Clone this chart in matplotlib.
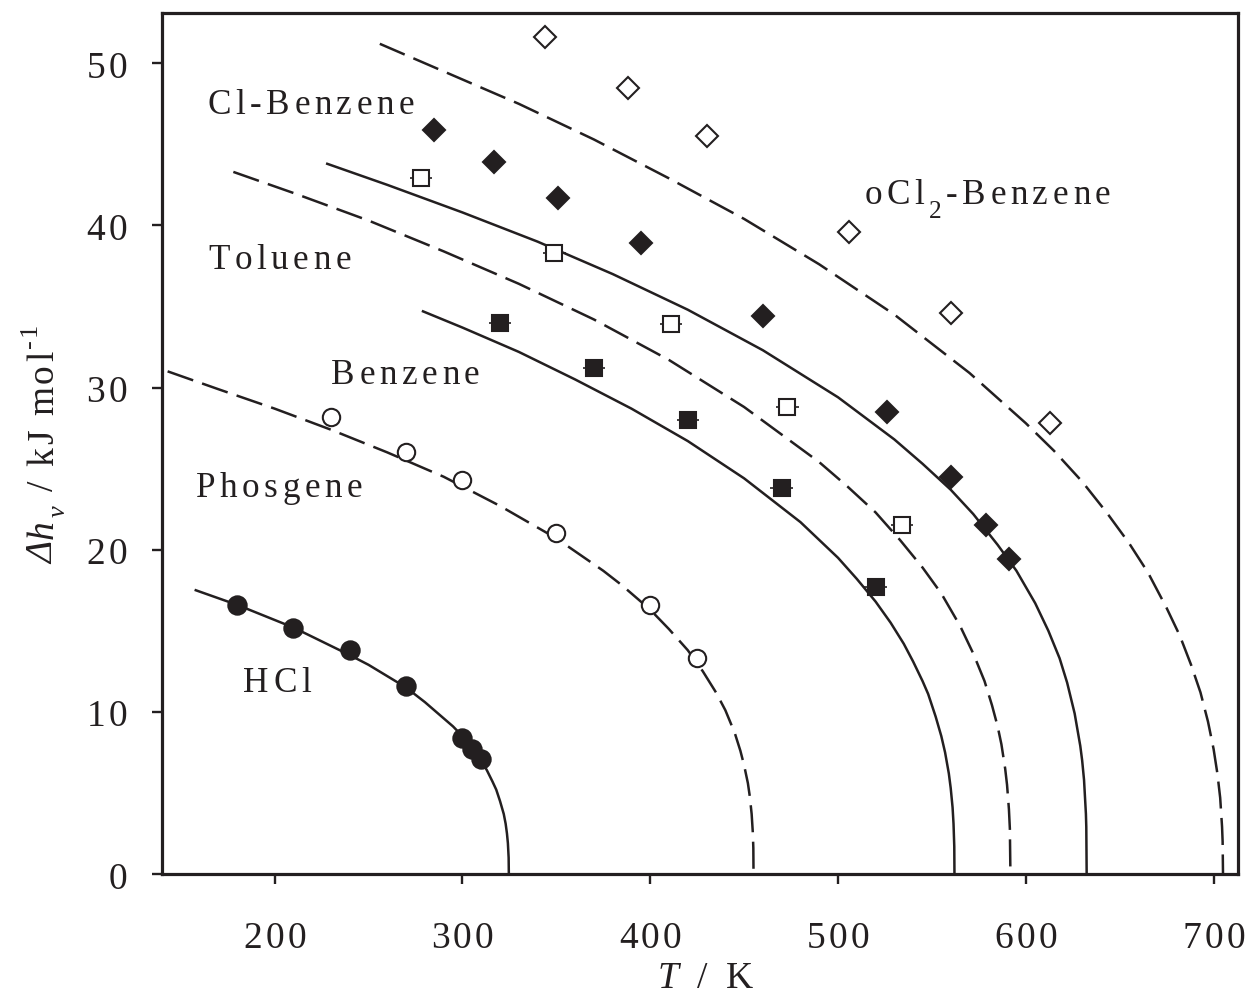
import numpy as np
import matplotlib
matplotlib.use("Agg")
import matplotlib.pyplot as plt
from matplotlib.font_manager import FontProperties, findfont, get_font
try:
    from matplotlib.ft2font import LoadFlags
    NOHINT = LoadFlags.NO_HINTING
except ImportError:
    from matplotlib.ft2font import LOAD_NO_HINTING as NOHINT

SERIF = "Liberation Serif"
INK = "#231f20"
plt.rcParams["lines.scale_dashes"] = False
FONT_FILES = {st: findfont(FontProperties(family=SERIF, style=st))
              for st in ("normal", "italic")}

# --- correlation curves, dh_v [kJ/mol] vs T [K] ---
hcl_T = [158, 180, 210, 240, 250, 260, 270, 280, 290, 295, 300, 305, 310, 313, 316, 318,
         320, 322, 323, 323.7, 324.2, 324.6, 324.7]
hcl_h = [17.5, 16.6, 15.2, 13.5, 12.9, 12.2, 11.5, 10.6, 9.6, 9.1, 8.5, 7.8, 7.0, 6.4, 5.7, 5.2,
         4.5, 3.7, 3.1, 2.5, 1.9, 1.0, 0.0]

phos_T = [143, 170, 200, 230, 260, 290, 320, 350, 375, 385, 400, 410, 420, 428, 435, 440,
          445, 448, 450, 452, 453, 454, 454.6, 454.9, 455]
phos_h = [31.0, 29.9, 28.7, 27.4, 26.0, 24.5, 22.7, 20.7, 18.7, 17.8, 16.3, 15.1, 13.8, 12.5, 11.2, 10.1,
          8.7, 7.6, 6.7, 5.6, 4.8, 3.7, 2.6, 1.6, 0.0]

benz_T = [279, 300, 330, 360, 390, 420, 450, 480, 490, 500, 510, 520, 528, 535, 540, 545,
          548, 552, 555, 557, 559, 560, 561, 561.5, 561.9, 562]
benz_h = [34.7, 33.7, 32.2, 30.5, 28.7, 26.7, 24.4, 21.7, 20.6, 19.5, 18.2, 16.8, 15.5, 14.2, 13.1, 11.9,
          11.1, 9.7, 8.5, 7.5, 6.2, 5.3, 4.1, 3.1, 1.7, 0.0]

tol_T = [178, 210, 250, 290, 330, 370, 410, 450, 490, 505, 520, 533, 545, 555, 565, 572,
         578, 582, 585, 587, 589, 590, 591, 591.5, 591.8]
tol_h = [43.3, 42.0, 40.3, 38.4, 36.4, 34.2, 31.7, 28.8, 25.4, 23.9, 22.3, 20.6, 18.9, 17.3, 15.3, 13.6,
         11.9, 10.4, 9.1, 8.0, 6.5, 5.5, 4.0, 2.8, 0.0]

clb_T = [228, 260, 300, 340, 380, 420, 460, 500, 515, 530, 545, 560, 572, 585, 595, 605,
         612, 618, 622, 626, 629, 630, 631, 632, 632.2, 632.4]
clb_h = [43.8, 42.5, 40.8, 39.0, 37.0, 34.8, 32.3, 29.4, 28.1, 26.8, 25.3, 23.7, 22.2, 20.3, 18.7, 16.7,
         15.0, 13.3, 11.8, 9.9, 7.9, 7.0, 5.8, 3.7, 2.9, 0.0]

dcb_T = [256, 290, 330, 370, 410, 450, 490, 530, 570, 600, 615, 630, 643, 655, 665, 675,
         682, 688, 693, 697, 700, 702, 703.5, 704.5, 704.8, 705]
dcb_h = [51.2, 49.5, 47.5, 45.3, 42.9, 40.4, 37.6, 34.5, 30.9, 27.8, 26.1, 24.2, 22.3, 20.4, 18.6, 16.4,
         14.7, 12.9, 11.2, 9.4, 7.7, 6.2, 4.7, 2.9, 2.0, 0.0]

# --- experimental points ---
hcl_Tx = [180, 210, 240, 270, 300, 305, 310]
hcl_hx = [16.6, 15.2, 13.8, 11.6, 8.4, 7.7, 7.1]

phos_Tx = [230, 270, 300, 350, 400, 425]
phos_hx = [28.2, 26.0, 24.3, 21.0, 16.6, 13.3]

benz_Tx = [320, 370, 420, 470, 520]
benz_hx = [34.0, 31.2, 28.0, 23.8, 17.7]

tol_Tx = [278, 349, 411, 473, 534]
tol_hx = [42.9, 38.3, 33.9, 28.8, 21.5]

clb_Tx = [285, 317, 351, 395, 460, 526, 560, 579, 591]
clb_hx = [45.9, 43.9, 41.7, 38.9, 34.4, 28.5, 24.5, 21.5, 19.4]

dcb_Tx = [344, 388, 430, 506, 560, 613]
dcb_hx = [51.6, 48.5, 45.5, 39.6, 34.6, 27.8]

xticks = [200, 300, 400, 500, 600, 700]
yticks = [0, 10, 20, 30, 40, 50]


def advance(ch, size, style):
    font = get_font(FONT_FILES[style])
    font.set_size(size, 72)
    g = font.load_char(ord(ch), flags=NOHINT)
    return g.linearHoriAdvance / 65536.0


def spaced_text(ax, x, y, pieces, trans, size, track, ha="left",
                dx=0.0, dy=0.0, rotation=0):
    """Draw text letter by letter with extra tracking (points)."""
    items = []
    pos = 0.0
    for text, style, scale, rise in pieces:
        fs = size * scale
        for ch in text:
            items.append((ch, style, fs, pos, rise * size))
            pos += advance(ch, fs, style) + track
    total = pos - track
    shift = {"left": 0.0, "center": -total / 2, "right": -total}[ha]
    for ch, style, fs, p, r in items:
        if ch == " ":
            continue
        along = p + shift
        if rotation == 90:
            off = (dx - r, dy + along)
        else:
            off = (dx + along, dy + r)
        fp = FontProperties(fname=FONT_FILES[style], size=fs)
        ax.annotate(ch, (x, y), xycoords=trans, xytext=off,
                    textcoords="offset points", fontproperties=fp,
                    ha="left", va="baseline", rotation=rotation,
                    rotation_mode="anchor", color=INK, annotation_clip=False)


fig = plt.figure(figsize=(12.46, 10), dpi=100)
ax = fig.add_axes([0.130, 0.126, 0.8636, 0.861])

dash = (0, (19.5, 6.8))
lw = 1.8
ax.plot(hcl_T, hcl_h, color=INK, lw=lw, zorder=2)
ax.plot(phos_T, phos_h, color=INK, lw=lw, ls=dash, zorder=2)
ax.plot(benz_T, benz_h, color=INK, lw=lw, zorder=2)
ax.plot(tol_T, tol_h, color=INK, lw=lw, ls=dash, zorder=2)
ax.plot(clb_T, clb_h, color=INK, lw=lw, zorder=2)
ax.plot(dcb_T, dcb_h, color=INK, lw=lw, ls=dash, zorder=2)

# small horizontal bars on the square symbols
ax.errorbar(benz_Tx, benz_hx, xerr=6, fmt="none", ecolor=INK, elinewidth=1.2, capsize=0, zorder=3)
ax.errorbar(tol_Tx, tol_hx, xerr=6, fmt="none", ecolor=INK, elinewidth=1.2, capsize=0, zorder=3)

mk = dict(ls="none", mec=INK, mew=1.5, zorder=4)
ax.plot(hcl_Tx, hcl_hx, marker="o", ms=13.2, mfc=INK, **mk)
ax.plot(phos_Tx, phos_hx, marker="o", ms=12.5, mfc="white", **mk)
ax.plot(benz_Tx, benz_hx, marker="s", ms=12.2, mfc=INK, **mk)
ax.plot(tol_Tx, tol_hx, marker="s", ms=11.8, mfc="white", **mk)
ax.plot(clb_Tx, clb_hx, marker="D", ms=11.0, mfc=INK, **mk)
ax.plot(dcb_Tx, dcb_hx, marker="D", ms=10.8, mfc="white", **mk)

ax.set_xlim(140, 713)
ax.set_ylim(0, 53.1)
ax.set_xticks(xticks)
ax.set_yticks(yticks)
ax.set_xticklabels([])
ax.set_yticklabels([])
ax.tick_params(direction="out", length=7.2, width=1.7, color=INK,
               top=False, right=False)
for sp in ax.spines.values():
    sp.set_linewidth(2.3)
    sp.set_color(INK)

# tick labels
tick_fs, tick_tr = 27, 2.3
for t in xticks:
    spaced_text(ax, t, 0, [(str(t), "normal", 1, 0)], ax.get_xaxis_transform(),
                tick_fs, tick_tr, ha="center", dy=-53.3)
for v in yticks:
    spaced_text(ax, 0, v, [(str(v), "normal", 1, 0)], ax.get_yaxis_transform(),
                tick_fs, tick_tr, ha="right", dx=-25.2, dy=-10.5)

# axis labels
spaced_text(ax, 0.505, 0, [("T", "italic", 1, 0), (" / K", "normal", 1, 0)],
            ax.transAxes, 27, 3.3, ha="center", dy=-82)
spaced_text(ax, 0, 0.5,
            [("\u0394", "italic", 1, 0), ("h", "italic", 1, 0),
             ("v", "italic", 0.7, -0.3), (" / kJ mol", "normal", 1, 0),
             ("-1", "normal", 0.7, 0.45)],
            ax.transAxes, 27, 2.0, ha="center", dx=-78.5, rotation=90)

# curve labels
lab_fs, lab_tr = 25.3, 3.3
spaced_text(ax, 164.3, 46.9, [("Cl-Benzene", "normal", 1, 0)], ax.transData, lab_fs, lab_tr)
spaced_text(ax, 164.8, 37.3, [("Toluene", "normal", 1, 0)], ax.transData, lab_fs, lab_tr)
spaced_text(ax, 230.2, 30.25, [("Benzene", "normal", 1, 0)], ax.transData, lab_fs, lab_tr)
spaced_text(ax, 157.9, 23.25, [("Phosgene", "normal", 1, 0)], ax.transData, lab_fs, lab_tr)
spaced_text(ax, 183.3, 11.23, [("HCl", "normal", 1, 0)], ax.transData, lab_fs, lab_tr)
spaced_text(ax, 514, 41.3,
            [("oCl", "normal", 1, 0), ("2", "normal", 0.72, -0.38),
             ("-Benzene", "normal", 1, 0)],
            ax.transData, lab_fs, lab_tr)

fig.savefig("out.png", dpi=100)
